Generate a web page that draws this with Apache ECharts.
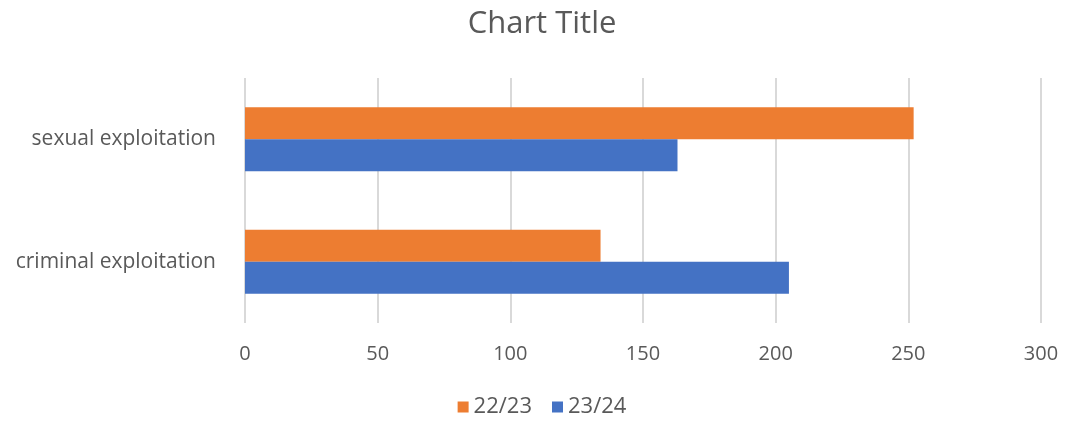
<!DOCTYPE html>
<html>
<head>
<meta charset="utf-8">
<title>Chart Title</title>
<script src="https://cdn.jsdelivr.net/npm/echarts@6/dist/echarts.min.js"></script>
<style>
  html, body { margin: 0; padding: 0; background: #fff; }
  #bar { width: 1084px; height: 421px; }
</style>
</head>
<body>
<div id="bar"></div>
<script>
// categories, bottom to top as echarts lays them on a y category axis
var categories = ['criminal exploitation', 'sexual exploitation'];
var values2223 = [134, 252];
var values2324 = [205, 163];
var xTicks = [0, 50, 100, 150, 200, 250, 300];

var textColor = '#595959';
var fontName = '"Open Sans", "Noto Sans", sans-serif';

window.onload = function() {
    var barChart = echarts.init(document.getElementById('bar'));

    var barOption = {
        animation: false,
        title: {
            text: 'Chart Title',
            left: 'center',
            top: 4,
            textStyle: {
                color: textColor,
                fontFamily: fontName,
                fontWeight: 'normal',
                fontSize: 31
            }
        },
        legend: {
            data: ['22/23', '23/24'],
            top: 391,
            left: 'center',
            itemWidth: 11,
            itemHeight: 11,
            itemGap: 20,
            icon: 'rect',
            textStyle: {
                color: textColor,
                fontFamily: fontName,
                fontSize: 22
            }
        },
        grid: {
            left: 245,
            right: 43,
            top: 78,
            bottom: 98
        },
        xAxis: {
            type: 'value',
            min: xTicks[0],
            max: xTicks[xTicks.length - 1],
            interval: xTicks[1] - xTicks[0],
            axisLine: { show: false },
            axisTick: { show: false },
            splitLine: {
                show: true,
                lineStyle: { color: '#D9D9D9', width: 2 }
            },
            axisLabel: {
                margin: 21,
                color: textColor,
                fontFamily: fontName,
                fontSize: 20
            }
        },
        yAxis: {
            type: 'category',
            data: categories,
            axisLine: { show: false },
            axisTick: { show: false },
            axisLabel: {
                margin: 29,
                color: textColor,
                fontFamily: fontName,
                fontSize: 21
            }
        },
        series: [
            {
                name: '22/23',
                type: 'bar',
                data: values2223,
                barWidth: 32,
                barGap: '0%',
                itemStyle: { color: '#ED7D31' }
            },
            {
                name: '23/24',
                type: 'bar',
                data: values2324,
                barWidth: 32,
                barGap: '0%',
                itemStyle: { color: '#4472C4' }
            }
        ]
    };

    barChart.setOption(barOption);
}
</script>
</body>
</html>
